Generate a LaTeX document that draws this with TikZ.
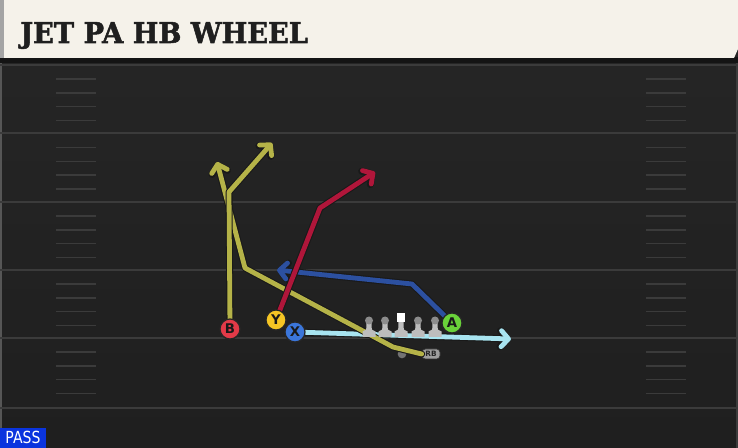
\documentclass[tikz,border=0pt]{standalone}
\usepackage{fontspec}
\usetikzlibrary{arrows.meta}
\newfontfamily\titlefont[FakeBold=1.8]{DejaVu Serif}
\newfontfamily\uifont{DejaVu Sans}
\definecolor{fieldtop}{HTML}{262626}
\definecolor{fieldbot}{HTML}{1F1F1F}
\definecolor{yardline}{HTML}{3B3B3B}
\definecolor{hdrcream}{HTML}{F5F2EA}
\definecolor{hdrgray}{HTML}{A4A4A4}
\definecolor{olive}{HTML}{B5B348}
\definecolor{crimson}{HTML}{B0163A}
\definecolor{navyb}{HTML}{2C50A0}
\definecolor{cyanr}{HTML}{A8E4F0}
\definecolor{pred}{HTML}{E33A48}
\definecolor{pyel}{HTML}{F5C524}
\definecolor{pblue}{HTML}{3B76DA}
\definecolor{pgreen}{HTML}{6AD23A}
\definecolor{olgray}{HTML}{BDBDBD}
\definecolor{passblue}{HTML}{0A34DE}
\tikzset{
  yardln/.style={yardline, line width=1.5pt},
  hashln/.style={yardline, line width=1.4pt},
  routeout/.style={draw=black!90, line width=5.2pt, line join=round, line cap=round,
    -{Straight Barb[length=5.5pt,width=12pt,line cap=round,line join=round]}},
  routein/.style={line width=3.6pt, line join=round, line cap=round,
    -{Straight Barb[length=5.5pt,width=12pt,line cap=round,line join=round]}},
  player/.style={circle, draw=black!85, line width=0.9pt, minimum size=15pt, inner sep=0pt,
    font=\uifont\bfseries\fontsize{10}{10}\selectfont, text=black!90},
}
\begin{document}
\begin{tikzpicture}[x=0.75pt,y=-0.75pt]
\useasboundingbox (0,0) rectangle (738,448);
% field
\shade[top color=fieldtop, bottom color=fieldbot] (0,0) rectangle (738,448);
\fill[white!22!fieldtop] (0,60) rectangle (2,448);
\fill[white!10!fieldtop] (736,60) rectangle (738,448);
% yard lines and hashes
\foreach \L in {65,133.5,202,270,338,408}{
  \draw[yardln] (0,\L) -- (738,\L);
}
\foreach \L in {65,133.5,202,270,338}{
  \foreach \o in {14,28,41.5,55.5}{
    \draw[hashln] (56,\L+\o) -- (96,\L+\o);
    \draw[hashln] (646,\L+\o) -- (686,\L+\o);
  }
}
% header
\fill[black!92] (0,57) rectangle (738,63);
\fill[hdrcream] (3,0) -- (738,0) -- (738,49) -- (734,58) -- (3,58) -- cycle;
\fill[hdrgray] (0,0) rectangle (4,58);
\node[anchor=base west, inner sep=0pt, text=black!88, xscale=0.95,
  font=\titlefont\bfseries\fontsize{21.5}{22}\selectfont] (title) at (20,43) {JET PA HB WHEEL};
% PASS label
\node[anchor=south west, fill=passblue, inner sep=0pt, minimum width=34pt, minimum height=15pt,
  text=white, font=\uifont\fontsize{12.5}{12.5}\selectfont] (pass) at (0,448) {\scalebox{0.84}[1]{PASS}};
% players
\node[player, fill=pred] (B) at (230,329) {B};
\node[player, fill=pyel] (Y) at (276,320) {Y};
\node[player, fill=pblue] (X) at (295,332) {X};
\node[player, fill=pgreen] (A) at (452,323) {A};
\node[draw=black!80, line width=0.5pt, fill=black!38, rounded corners=2.5pt, minimum width=13.5pt, minimum height=7.5pt,
  inner sep=0pt, text=black!85, font=\uifont\bfseries\fontsize{5.5}{5.5}\selectfont] (RB) at (431,354) {RB};
\node[circle, fill=black!55, minimum size=6.5pt, inner sep=0pt] (QB) at (402,354) {};
% route coordinates
\coordinate (xend) at (511,339);
\coordinate (rb1) at (393,347);
\coordinate (rb2) at (245,268);
\coordinate (rbend) at (217,162);
\coordinate (b1) at (229,192);
\coordinate (bend) at (272,143);
\coordinate (a1) at (412,284);
\coordinate (aend) at (277,270);
\coordinate (y1) at (320,208);
\coordinate (yend) at (375,172);
% routes (back to front)
\draw[routeout] (X.center) -- (xend);
\draw[routein, cyanr] (X.center) -- (xend);
\draw[routeout] (RB.west) -- (rb1) -- (rb2) -- (rbend);
\draw[routein, olive] (RB.west) -- (rb1) -- (rb2) -- (rbend);
\draw[routeout] (B.center) -- (b1) -- (bend);
\draw[routein, olive] (B.center) -- (b1) -- (bend);
\draw[routeout] (A.center) -- (a1) -- (aend);
\draw[routein, navyb] (A.center) -- (a1) -- (aend);
\draw[routeout] (Y.center) -- (y1) -- (yend);
\draw[routein, crimson] (Y.center) -- (y1) -- (yend);
% redraw players on top
\node[player, fill=pred] at (B) {B};
\node[player, fill=pyel] at (Y) {Y};
\node[player, fill=pblue] at (X) {X};
\node[player, fill=pgreen] at (A) {A};
% offensive line
\foreach \x/\c in {369/0,385/0,401/1,418/0,435/0}{
  \fill[olgray] (\x-6.5,337) -- (\x+6.5,337) -- (\x+6.5,331.5) -- (\x+2.8,329.5) -- (\x+2.5,322) -- (\x-2.5,322) -- (\x-2.8,329.5) -- (\x-6.5,331.5) -- cycle;
  \ifnum\c=1
    \fill[white] (\x-4,313.5) rectangle (\x+4,322);
  \else
    \fill[black!45] (\x,320.5) circle (4);
  \fi
}
\end{tikzpicture}
\end{document}
